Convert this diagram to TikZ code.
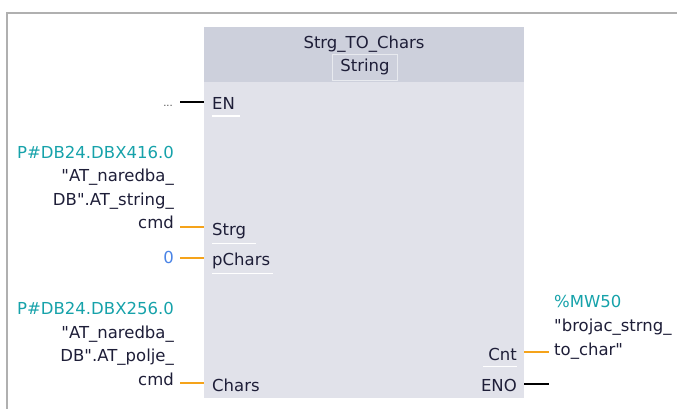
\documentclass[tikz,border=0pt]{standalone}
\usepackage{fontspec}
\setmainfont{DejaVu Sans}
\usetikzlibrary{positioning}
\definecolor{framecolor}{HTML}{B0B0B0}
\definecolor{headcolor}{HTML}{CDD0DC}
\definecolor{bodycolor}{HTML}{E1E2EA}
\definecolor{pincolor}{HTML}{1E1E38}
\definecolor{addrcolor}{HTML}{16A2AA}
\definecolor{constcolor}{HTML}{4A84E6}
\definecolor{wirecolor}{HTML}{F5A31A}
\tikzset{
	pin/.style={
		font=\fontsize{16.5}{18}\selectfont,
		text=pincolor,
		inner sep=0pt
	},
	addr/.style={
		pin,
		text=addrcolor
	},
	konst/.style={
		pin,
		text=constcolor
	},
	body/.style={
		rectangle,
		fill=bodycolor,
		minimum width=320pt,
		minimum height=371pt,
		inner sep=0pt
	},
	head/.style={
		rectangle,
		fill=headcolor,
		minimum width=320pt,
		minimum height=55pt,
		inner sep=0pt
	},
	typebox/.style={
		pin,
		draw=white!55!headcolor,
		minimum width=65pt,
		minimum height=26pt
	},
	wire/.style={
		draw=wirecolor,
		line width=2.8pt
	},
	boolwire/.style={
		draw=black,
		line width=2.8pt
	},
	mark line/.style={
		draw=white,
		line width=1.6pt
	}
}

\begin{document}
\begin{tikzpicture}[x=1pt,y=-1pt]
	\useasboundingbox (0,0) rectangle (677,409);
	\draw[framecolor,line width=1.2pt] (7,409) -- (7,13) -- (677,13);
	% block
	\node[body,anchor=north west] (blk) at (204,27) {};
	\node[head,anchor=north west] (hdr) at (blk.north west) {};
	\node[pin,anchor=base] (title) at (364,49) {Strg\_TO\_Chars};
	\node[typebox] (typ) at (365,67) {String};
	% inputs
	\node[pin,anchor=base west] (en) at (212,110) {EN};
	\node[pin,anchor=base west] (strg) at (212,235) {Strg};
	\node[pin,anchor=base west] (pchars) at (212,265) {pChars};
	\node[pin,anchor=base west] (chars) at (212,391) {Chars};
	% outputs
	\node[pin,anchor=base east] (cnt) at (517,360) {Cnt};
	\node[pin,anchor=base east] (eno) at (517,391) {ENO};
	\draw[mark line] (en.south west) ++(0,6) -- ++(28,0);
	\draw[mark line] (strg.south west) ++(0,5) -- ++(44,0);
	\draw[mark line] (pchars.south west) ++(0,5) -- ++(61,0);
	\draw[mark line] (cnt.south east) ++(0,6) -- ++(-34,0);
	% operands
	\node[pin,anchor=base east,text=black!70] (endots) at (173,107) {\fontsize{10}{10}\selectfont...};
	\node[addr,anchor=base east] (strgaddr) at (174,158) {P\#DB24.DBX416.0};
	\node[pin,anchor=base east] (strgname1) at (174,181) {\textquotedbl AT\_naredba\_};
	\node[pin,anchor=base east] (strgname2) at (174,205) {DB\textquotedbl.AT\_string\_};
	\node[pin,anchor=base east] (strgname3) at (174,228) {cmd};
	\node[konst,anchor=base east] (pcharsval) at (174,263) {0};
	\node[addr,anchor=base east] (charsaddr) at (174,314) {P\#DB24.DBX256.0};
	\node[pin,anchor=base east] (charsname1) at (174,338) {\textquotedbl AT\_naredba\_};
	\node[pin,anchor=base east] (charsname2) at (174,361) {DB\textquotedbl.AT\_polje\_};
	\node[pin,anchor=base east] (charsname3) at (174,385) {cmd};
	\node[addr,anchor=base west] (cntaddr) at (554,307) {\%MW50};
	\node[pin,anchor=base west] (cntname1) at (554,331) {\textquotedbl brojac\_strng\_};
	\node[pin,anchor=base west] (cntname2) at (554,355) {to\_char\textquotedbl};
	% wires
	\coordinate (enw) at (180,102);
	\coordinate (strgw) at (180,227);
	\coordinate (pcharsw) at (180,258);
	\coordinate (charsw) at (180,383);
	\coordinate (cntw) at (549,352);
	\coordinate (enow) at (549,384);
	\draw[boolwire] (enw) -- (enw -| blk.west);
	\draw[wire] (strgw) -- (strgw -| blk.west);
	\draw[wire] (pcharsw) -- (pcharsw -| blk.west);
	\draw[wire] (charsw) -- (charsw -| blk.west);
	\draw[wire] (cntw -| blk.east) -- (cntw);
	\draw[boolwire] (enow -| blk.east) -- (enow);
\end{tikzpicture}
\end{document}
